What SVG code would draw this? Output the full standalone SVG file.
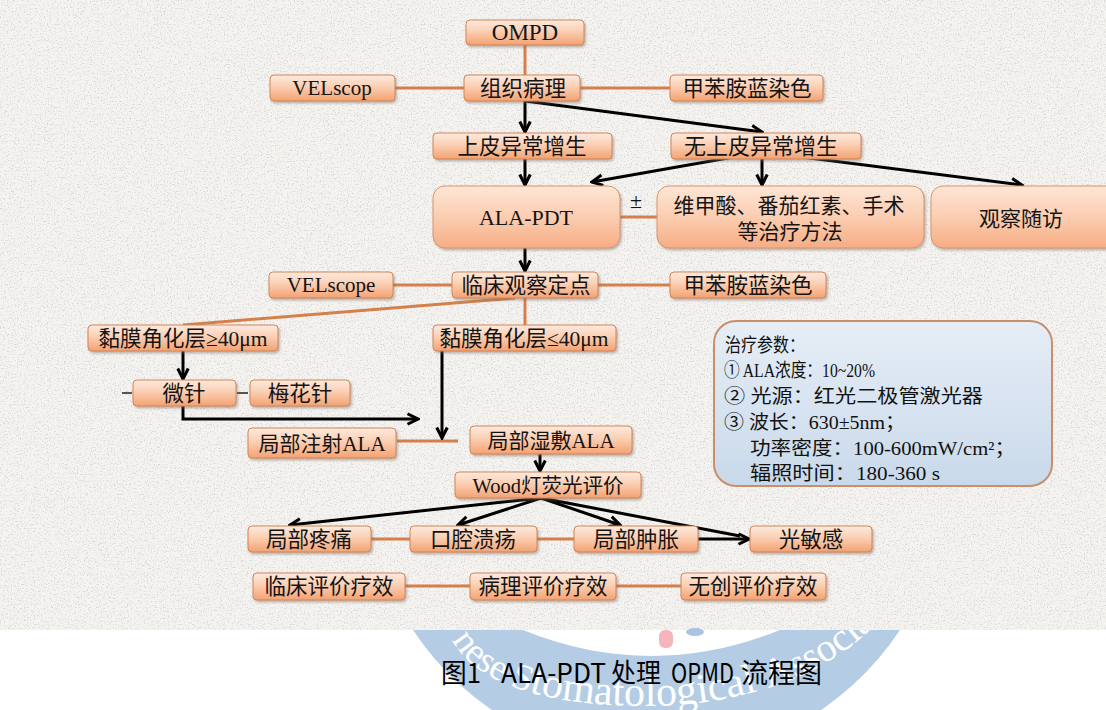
<svg xmlns="http://www.w3.org/2000/svg" xmlns:xlink="http://www.w3.org/1999/xlink" width="1106" height="710" viewBox="0 0 1106 710">
<style>
.box{fill:url(#gOr);stroke:#d28556;stroke-width:1;filter:url(#sh)}
.big{fill:url(#gOrB);stroke:#d9946a;stroke-width:1;filter:url(#sh)}
.t{font-family:"Liberation Serif","Noto Sans CJK SC",serif;font-size:21.5px;fill:#141414;text-anchor:middle}
.lat{font-size:21px}
.ol{stroke:#d5804a;stroke-width:3;fill:none}
.bl{stroke:#000;stroke-width:3;fill:none;marker-end:url(#ah)}
.bn{stroke:#000;stroke-width:3;fill:none}
.tick{stroke:#222;stroke-width:1.5}
.p{font-family:"Liberation Serif","Noto Sans CJK SC",serif;font-size:19px;fill:#111}
.cap{font-family:"Noto Sans CJK SC",sans-serif;font-size:27px;fill:#000}
.wm{font-family:"Liberation Serif",serif;font-size:42px;fill:#fff}
</style>
<defs>
<linearGradient id="gOr" x1="0" y1="0" x2="0" y2="1">
<stop offset="0" stop-color="#fdeadf"/><stop offset="0.45" stop-color="#fbcfb3"/><stop offset="1" stop-color="#f4a272"/>
</linearGradient>
<linearGradient id="gOrB" x1="0" y1="0" x2="0" y2="1">
<stop offset="0" stop-color="#fde6d6"/><stop offset="0.5" stop-color="#fbcdb1"/><stop offset="1" stop-color="#f6ad84"/>
</linearGradient>
<linearGradient id="gBl" x1="0" y1="0" x2="0" y2="1">
<stop offset="0" stop-color="#e6eef7"/><stop offset="1" stop-color="#c9d9ea"/>
</linearGradient>
<filter id="sh" x="-10%" y="-20%" width="120%" height="150%">
<feDropShadow dx="1.5" dy="2" stdDeviation="1.2" flood-color="#7a6a60" flood-opacity="0.45"/>
</filter>
<filter id="tex" x="0" y="0" width="100%" height="100%">
<feTurbulence type="fractalNoise" baseFrequency="0.7" numOctaves="2" seed="5"/>
<feColorMatrix type="matrix" values="0 0 0 0 0.55  0 0 0 0 0.55  0 0 0 0 0.57  6 0 0 0 -3.3"/>
</filter>
<marker id="ah" viewBox="0 0 12 12" refX="10.5" refY="6" markerWidth="14" markerHeight="14" markerUnits="userSpaceOnUse" orient="auto">
<path d="M1.5,1.5 L10.5,6 L1.5,10.5" fill="none" stroke="#000" stroke-width="2.6" stroke-linejoin="miter"/>
</marker>
<path id="wmPath" d="M452,640 C480,690 560,706 650,706 C720,706 831,684 885,612"/>
</defs>

<rect width="1106" height="710" fill="#fff"/>

<g id="watermark">
<path d="M413,630 A292,292 0 0 0 900,630 L900,600 L413,600 Z M523,630 Q651.5,682 780,630 L780,600 L523,600 Z" fill="#b4cde5" fill-rule="evenodd"/>
<text class="wm"><textPath xlink:href="#wmPath"><tspan font-size="37">nese S</tspan>tomatological <tspan font-size="40">Associat</tspan></textPath></text>
</g>

<g id="background">
<rect x="0" y="0" width="1106" height="630" fill="#f5f3f0"/>
<rect x="0" y="0" width="1106" height="630" filter="url(#tex)" opacity="0.5"/>
</g>

<g id="connectors">
<path class="ol" d="M525,45 V75"/>
<path class="ol" d="M395,88 H464"/>
<path class="ol" d="M580,88 H670"/>
<path class="ol" d="M620,217 H657"/>
<path class="ol" d="M393,285 H452"/>
<path class="ol" d="M598,285 H670"/>
<path class="ol" d="M525,298 V325"/>
<path class="ol" d="M515,298 L183,325"/>
<path class="ol" d="M397,441 H458"/>
<path class="ol" d="M371,539 H410"/>
<path class="ol" d="M537,539 H574"/>
<path class="ol" d="M405,586 H470"/>
<path class="ol" d="M616,586 H681"/>

<path class="bl" d="M525,101 V132"/>
<path class="bl" d="M525,101 L762,132"/>
<path class="bl" d="M525,159 V185"/>
<path class="bl" d="M762,152 L592,182"/>
<path class="bl" d="M762,152 V185"/>
<path class="bl" d="M762,152 L1022,185"/>
<path class="bl" d="M525,248 V271"/>
<path class="bl" d="M183,351 V379"/>
<path class="bl" d="M183,392 V419 H418"/>
<path class="bl" d="M442,351 V438"/>
<path class="bl" d="M540,454 V471"/>
<path class="bl" d="M541,498 L290,525"/>
<path class="bl" d="M541,498 L458,525"/>
<path class="bl" d="M541,498 L620,525"/>
<path class="bn" d="M541,498 L740,536"/>
<path class="bl" d="M698,539 H749"/>
<path class="tick" d="M122,393 H132"/>
<path class="tick" d="M237,393 H248"/>
<text class="t" x="636" y="208" style="font-size:22px">±</text>
</g>

<g id="n_ompd"><rect class="box" x="466" y="20" width="118" height="25" rx="4"/><text class="t" x="525" y="40" style="font-size:23px">OMPD</text></g>
<g id="n_zzbl"><rect class="box" x="464" y="75" width="116" height="26" rx="4"/><text class="t" x="523" y="96">组织病理</text></g>
<g id="n_vel1"><rect class="box" x="270" y="75" width="125" height="26" rx="4"/><text class="t lat" x="332" y="95">VELscop</text></g>
<g id="n_tab1"><rect class="box" x="670" y="75" width="153" height="26" rx="4"/><text class="t" x="747" y="96">甲苯胺蓝染色</text></g>
<g id="n_spy"><rect class="box" x="433" y="133" width="179" height="26" rx="4"/><text class="t" x="522" y="154">上皮异常增生</text></g>
<g id="n_wspy"><rect class="box" x="671" y="133" width="190" height="26" rx="4"/><text class="t" x="761" y="154" style="font-size:22px">无上皮异常增生</text></g>
<g id="n_ala"><rect class="big" x="433" y="186" width="187" height="62" rx="12"/><text class="t" x="526" y="225" style="font-size:22px">ALA-PDT</text></g>
<g id="n_wjs"><rect class="big" x="657" y="186" width="267" height="62" rx="12"/><text class="t" x="789" y="213" style="font-size:21px">维甲酸、番茄红素、手术</text><text class="t" x="790" y="239" style="font-size:21px">等治疗方法</text></g>
<g id="n_gcsf"><rect class="big" x="931" y="186" width="190" height="62" rx="12"/><text class="t" x="1021" y="226" style="font-size:21px">观察随访</text></g>
<g id="n_lcgc"><rect class="box" x="452" y="272" width="146" height="26" rx="4"/><text class="t" x="526" y="293">临床观察定点</text></g>
<g id="n_vel2"><rect class="box" x="269" y="272" width="124" height="26" rx="4"/><text class="t lat" x="331" y="292">VELscope</text></g>
<g id="n_tab2"><rect class="box" x="670" y="272" width="156" height="26" rx="4"/><text class="t" x="748" y="293">甲苯胺蓝染色</text></g>
<g id="n_nm1"><rect class="box" x="88" y="325" width="190" height="26" rx="4"/><text class="t" x="183" y="346">黏膜角化层≥40μm</text></g>
<g id="n_nm2"><rect class="box" x="433" y="325" width="183" height="26" rx="4"/><text class="t" x="524" y="346">黏膜角化层≤40μm</text></g>
<g id="n_wz"><rect class="box" x="133" y="380" width="103" height="26" rx="4"/><text class="t" x="184" y="401">微针</text></g>
<g id="n_mhz"><rect class="box" x="250" y="380" width="100" height="26" rx="4"/><text class="t" x="300" y="401">梅花针</text></g>
<g id="n_jbzs"><rect class="box" x="248" y="428" width="148" height="30" rx="4"/><text class="t" x="322" y="451" style="font-size:21px">局部注射ALA</text></g>
<g id="n_jbss"><rect class="box" x="470" y="426" width="162" height="28" rx="4"/><text class="t" x="551" y="448" style="font-size:21px">局部湿敷ALA</text></g>
<g id="n_wood"><rect class="box" x="455" y="472" width="186" height="26" rx="4"/><text class="t" x="548" y="493" style="font-size:20.5px">Wood灯荧光评价</text></g>
<g id="n_jbtt"><rect class="box" x="248" y="526" width="123" height="26" rx="4"/><text class="t" x="309" y="547">局部疼痛</text></g>
<g id="n_kqky"><rect class="box" x="410" y="526" width="127" height="26" rx="4"/><text class="t" x="473" y="547">口腔溃疡</text></g>
<g id="n_jbzz"><rect class="box" x="574" y="526" width="124" height="26" rx="4"/><text class="t" x="636" y="547">局部肿胀</text></g>
<g id="n_gmg"><rect class="box" x="750" y="526" width="122" height="26" rx="4"/><text class="t" x="811" y="547">光敏感</text></g>
<g id="n_lcpj"><rect class="box" x="253" y="573" width="152" height="27" rx="4"/><text class="t" x="329" y="594">临床评价疗效</text></g>
<g id="n_blpj"><rect class="box" x="470" y="573" width="146" height="27" rx="4"/><text class="t" x="543" y="594">病理评价疗效</text></g>
<g id="n_wcpj"><rect class="box" x="681" y="573" width="145" height="27" rx="4"/><text class="t" x="753" y="594">无创评价疗效</text></g>

<g id="n_params">
<rect x="714" y="321" width="338" height="165" rx="22" fill="url(#gBl)" stroke="#c8906a" stroke-width="2"/>
<text class="p" x="725" y="352" textLength="80" lengthAdjust="spacingAndGlyphs">治疗参数：</text>
<text class="p" x="724" y="377" textLength="151" lengthAdjust="spacingAndGlyphs">① ALA浓度：10~20%</text>
<text class="p" x="724" y="403" textLength="259" lengthAdjust="spacingAndGlyphs">② 光源：红光二极管激光器</text>
<text class="p" x="724" y="429" textLength="181" lengthAdjust="spacingAndGlyphs">③ 波长：630±5nm；</text>
<text class="p" x="750" y="455" textLength="265" lengthAdjust="spacingAndGlyphs">功率密度：100-600mW/cm²；</text>
<text class="p" x="750" y="480" textLength="190" lengthAdjust="spacingAndGlyphs">辐照时间：180-360 s</text>
</g>

<g id="caption">
<rect x="659" y="630" width="14" height="18" rx="6" fill="#f4b6bc"/>
<ellipse cx="695" cy="632" rx="9" ry="4" fill="#a9c4e0"/>
<text class="cap" y="683"><tspan x="441" textLength="40" lengthAdjust="spacingAndGlyphs">图1</tspan> <tspan x="501" textLength="105" lengthAdjust="spacingAndGlyphs">ALA-PDT</tspan> <tspan x="611" textLength="50" lengthAdjust="spacingAndGlyphs">处理</tspan> <tspan x="671" textLength="63" lengthAdjust="spacingAndGlyphs">OPMD</tspan> <tspan x="741">流程图</tspan></text>
</g>
</svg>
